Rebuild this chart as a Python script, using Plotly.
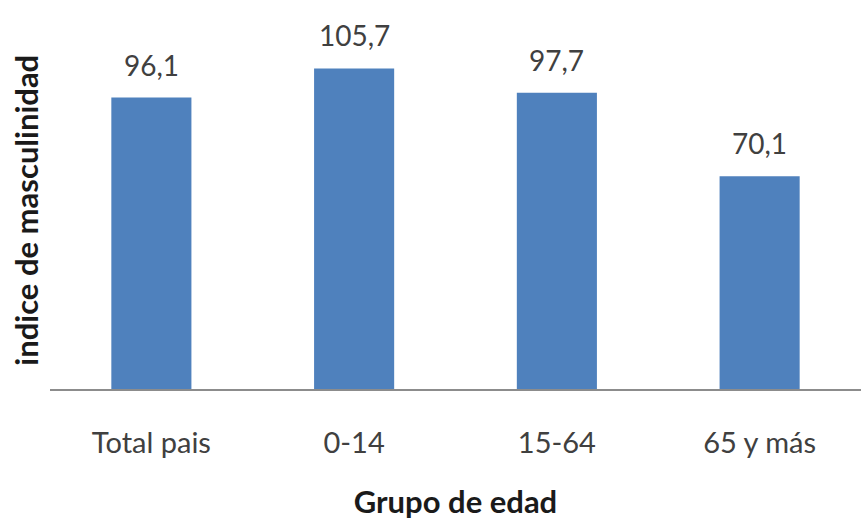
import plotly.graph_objects as go

categories = ["Total pais", "0-14", "15-64", "65 y más"]
values = [96.1, 105.7, 97.7, 70.1]
labels = [f"{v:.1f}".replace(".", ",") for v in values]

FONT = "Lato, Open Sans, sans-serif"

fig = go.Figure()
fig.add_trace(go.Bar(
    x=categories, y=values, width=0.395,
    marker=dict(color="#4F81BD", line=dict(width=0)),
    hoverinfo="skip",
))

for c, v, t in zip(categories, values, labels):
    fig.add_annotation(x=c, y=v, text=t, showarrow=False, yshift=33,
                       font=dict(family=FONT, size=28, color="#404040"))

# y-axis title placed as a rotated annotation
fig.add_annotation(xref="paper", yref="paper", x=0, y=0.49, xshift=-24,
                   xanchor="center", yanchor="middle", textangle=-90,
                   text="<b>indice de masculinidad</b>", showarrow=False,
                   font=dict(family=FONT, size=31, color="#1a1a1a"))

fig.update_layout(
    width=861, height=520,
    margin=dict(l=50, r=0, t=25, b=131),
    paper_bgcolor="white", plot_bgcolor="white",
    showlegend=False,
    xaxis=dict(
        showline=True, linecolor="#8c8c8c", linewidth=1.5,
        ticks="", showgrid=False, ticklabelstandoff=27, automargin=False,
        tickfont=dict(family=FONT, size=29, color="#404040"),
        title=dict(text="<b>Grupo de edad</b>", standoff=43,
                   font=dict(family=FONT, size=31, color="#1a1a1a")),
    ),
    yaxis=dict(
        range=[0, 120], showgrid=False, showticklabels=False, ticks="",
        zeroline=False, showline=False, automargin=False,
    ),
)

fig.write_html("out.html")
